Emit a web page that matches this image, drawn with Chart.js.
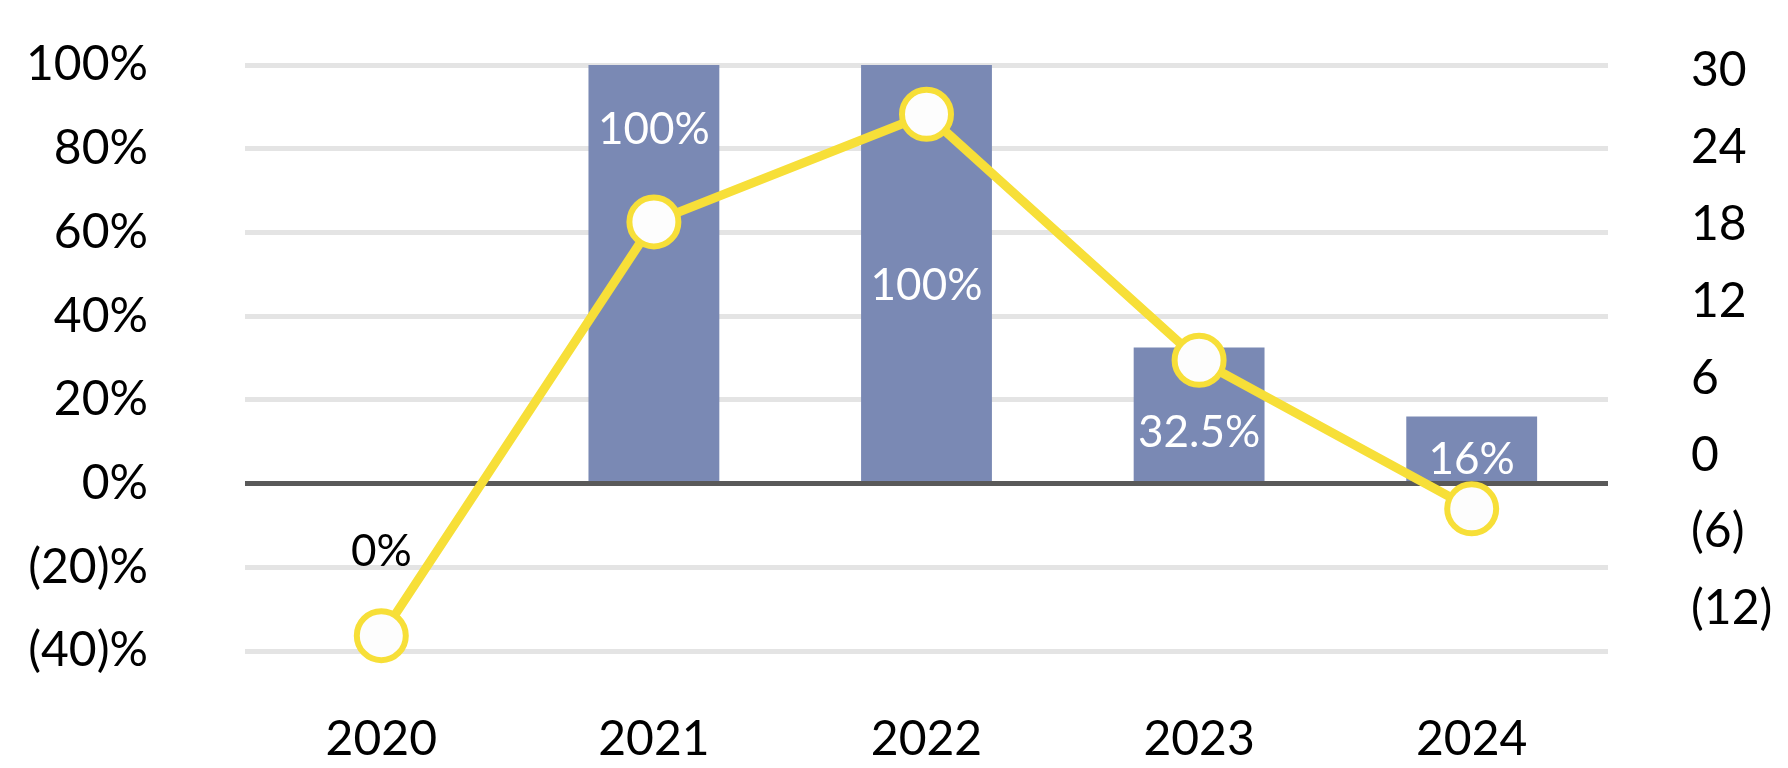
<!DOCTYPE html>
<html><head><meta charset="utf-8">
<script src="https://cdn.jsdelivr.net/npm/chart.js@4"></script>
<style>html,body{margin:0;padding:0;background:#fff;}canvas{display:block;}</style>
</head><body>
<canvas id="c" width="1788" height="768"></canvas>
<script>
const years = ['2020', '2021', '2022', '2023', '2024'];
const barValues = [0, 100, 100, 32.5, 16];
const barLabels = ['0%', '100%', '100%', '32.5%', '16%'];
const lineValues = [-14.1, 18.2, 26.6, 7.4, -4.2];
const leftTicks = [-40, -20, 0, 20, 40, 60, 80, 100];
const rightTicks = [-12, -6, 0, 6, 12, 18, 24, 30];

const FONT = 'Lato';
const labelPlacement = [
  {from: 'base', dy: 68, color: '#000000'},
  {from: 'top', dy: 65, color: '#ffffff'},
  {from: 'center', dy: 13, color: '#ffffff'},
  {from: 'center', dy: 19, color: '#ffffff'},
  {from: 'center', dy: 11, color: '#ffffff'}
];

const barLabelPlugin = {
  id: 'barLabelPlugin',
  afterDatasetDraw(chart, args) {
    if (args.index !== 0) return;
    const ctx = chart.ctx;
    ctx.save();
    ctx.font = '44px ' + FONT;
    ctx.textAlign = 'center';
    ctx.textBaseline = 'middle';
    args.meta.data.forEach((bar, i) => {
      const p = labelPlacement[i];
      const top = Math.min(bar.y, bar.base), bottom = Math.max(bar.y, bar.base);
      let y = p.from === 'top' ? top : (p.from === 'base' ? bar.base : (top + bottom) / 2);
      ctx.fillStyle = p.color;
      ctx.fillText(barLabels[i], bar.x, y + p.dy);
    });
    ctx.restore();
  }
};

const fmtPct = v => v < 0 ? '(' + (-v) + ')%' : v + '%';
const fmtNum = v => v < 0 ? '(' + (-v) + ')' : '' + v;

new Chart(document.getElementById('c'), {
  data: {
    labels: years,
    datasets: [
      {
        type: 'bar',
        data: barValues,
        yAxisID: 'y',
        backgroundColor: '#7A89B4',
        barPercentage: 0.48,
        categoryPercentage: 1.0,
        order: 2
      },
      {
        type: 'line',
        data: lineValues,
        yAxisID: 'y2',
        borderColor: '#F7DF38',
        borderWidth: 9,
        pointRadius: 24.5,
        pointBorderWidth: 6,
        pointBackgroundColor: '#FDFDFD',
        pointBorderColor: '#F7DF38',
        tension: 0,
        clip: false,
        order: 1
      }
    ]
  },
  options: {
    responsive: false,
    animation: false,
    layout: {autoPadding: false, padding: {top: 65, left: 0, right: 0, bottom: 0}},
    plugins: {legend: {display: false}, tooltip: {enabled: false}},
    scales: {
      x: {
        offset: true,
        grid: {display: false, drawTicks: false},
        border: {display: false},
        ticks: {color: '#000', font: {family: FONT, size: 48}, padding: 60},
        afterFit(s) { s.height = 117; }
      },
      y: {
        position: 'left',
        min: -40, max: 100,
        afterBuildTicks(s) { s.ticks = leftTicks.map(v => ({value: v})); },
        grid: {
          drawTicks: false,
          color: c => c.tick && c.tick.value === 0 ? '#595959' : '#E4E4E4',
          lineWidth: 5
        },
        border: {display: false},
        ticks: {color: '#000', font: {family: FONT, size: 48}, padding: 97, callback: v => fmtPct(v)},
        afterFit(s) { s.width = 245; s.paddingTop = 0; s.paddingBottom = 0; }
      },
      y2: {
        position: 'right',
        min: -15.3, max: 30.45,
        afterBuildTicks(s) { s.ticks = rightTicks.map(v => ({value: v})); },
        grid: {display: false, drawTicks: false},
        border: {display: false},
        ticks: {color: '#000', font: {family: FONT, size: 48}, padding: 83, callback: v => fmtNum(v)},
        afterFit(s) { s.width = 180; s.paddingTop = 0; s.paddingBottom = 0; }
      }
    }
  },
  plugins: [barLabelPlugin]
});
</script>
</body></html>
